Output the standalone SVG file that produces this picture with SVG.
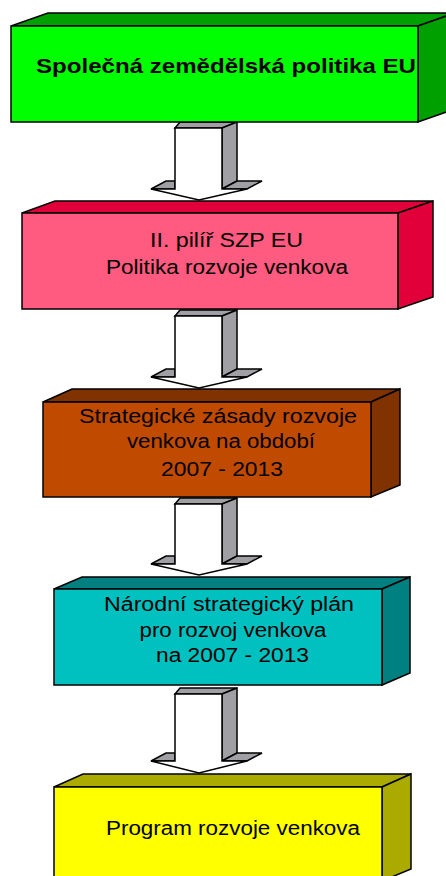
<svg xmlns="http://www.w3.org/2000/svg" width="446" height="876" viewBox="0 0 446 876">
<style>
.e{stroke:#000;stroke-width:1.5;stroke-linejoin:miter}
.g{fill:#A0A0A4}
.w{fill:#fff}
.t{font-family:"Liberation Sans",Arial,sans-serif;font-size:20px;fill:#000}
.b{font-weight:bold;font-size:21px}
</style>
<rect width="446" height="876" fill="#fff"/>
<g id="connectors">
  <g id="arrow1">
    <polygon class="e g" points="175,128 222,128 237,122 180,122"/>
    <polygon class="e g" points="222,128 237,122 237,181 222,189"/>
    <polygon class="e g" points="222,189 247,189 262,181 237,181"/>
    <polygon class="e g" points="151,189 166,181 175,181 175,189"/>
    <polygon class="e w" points="175,128 222,128 222,189 247,189 199,200 151,189 175,189"/>
  </g>
  <g id="arrow2">
    <polygon class="e g" points="175,316 222,316 237,310 180,310"/>
    <polygon class="e g" points="222,316 237,310 237,369 222,377"/>
    <polygon class="e g" points="222,377 247,377 262,369 237,369"/>
    <polygon class="e g" points="151,377 166,369 175,369 175,377"/>
    <polygon class="e w" points="175,316 222,316 222,377 247,377 199,388 151,377 175,377"/>
  </g>
  <g id="arrow3">
    <polygon class="e g" points="175,504 222,504 237,498 180,498"/>
    <polygon class="e g" points="222,504 237,498 237,556 222,564"/>
    <polygon class="e g" points="222,564 247,564 262,556 237,556"/>
    <polygon class="e g" points="151,564 166,556 175,556 175,564"/>
    <polygon class="e w" points="175,504 222,504 222,564 247,564 199,575 151,564 175,564"/>
  </g>
  <g id="arrow4">
    <polygon class="e g" points="175,694 222,694 237,688 180,688"/>
    <polygon class="e g" points="222,694 237,688 237,753 222,761"/>
    <polygon class="e g" points="222,761 247,761 262,753 237,753"/>
    <polygon class="e g" points="151,761 166,753 175,753 175,761"/>
    <polygon class="e w" points="175,694 222,694 222,761 247,761 199,773 151,761 175,761"/>
  </g>
</g>
<g id="node1">
  <polygon class="e" fill="#00A000" points="11,26 48,13 455,13 418,26"/>
  <polygon class="e" fill="#00A000" points="418,26 455,13 455,109 418,122"/>
  <rect class="e" fill="#00FF00" x="11" y="26" width="407" height="96"/>
  <text class="t b" x="36" y="73" textLength="380" lengthAdjust="spacingAndGlyphs">Společná zemědělská politika EU</text>
</g>
<g id="node2">
  <polygon class="e" fill="#E2003A" points="22,213 55,201 433,201 398,213"/>
  <polygon class="e" fill="#E2003A" points="398,213 433,201 433,297 398,309"/>
  <rect class="e" fill="#FF5A80" x="22" y="213" width="376" height="96"/>
  <text class="t" x="150" y="247" textLength="153" lengthAdjust="spacingAndGlyphs">II. pilíř SZP EU</text>
  <text class="t" x="106" y="274" textLength="242" lengthAdjust="spacingAndGlyphs">Politika rozvoje venkova</text>
</g>
<g id="node3">
  <polygon class="e" fill="#803200" points="43,402 72,389 400,389 371,402"/>
  <polygon class="e" fill="#803200" points="371,402 400,389 400,485 371,497"/>
  <rect class="e" fill="#C04A00" x="43" y="402" width="328" height="95"/>
  <text class="t" x="79" y="423" textLength="278" lengthAdjust="spacingAndGlyphs">Strategické zásady rozvoje</text>
  <text class="t" x="127" y="448" textLength="188" lengthAdjust="spacingAndGlyphs">venkova na období</text>
  <text class="t" x="161" y="475.5" textLength="122" lengthAdjust="spacingAndGlyphs">2007 - 2013</text>
</g>
<g id="node4">
  <polygon class="e" fill="#008080" points="54,589 82,577 410,577 382,589"/>
  <polygon class="e" fill="#008080" points="382,589 410,577 410,673 382,685"/>
  <rect class="e" fill="#00C0C0" x="54" y="589" width="328" height="96"/>
  <text class="t" x="104" y="611" textLength="250" lengthAdjust="spacingAndGlyphs">Národní strategický plán</text>
  <text class="t" x="139.5" y="637" textLength="187" lengthAdjust="spacingAndGlyphs">pro rozvoj venkova</text>
  <text class="t" x="156" y="662" textLength="153" lengthAdjust="spacingAndGlyphs">na 2007 - 2013</text>
</g>
<g id="node5">
  <polygon class="e" fill="#AAAA00" points="54,787 83,774 411,774 382,787"/>
  <polygon class="e" fill="#AAAA00" points="382,787 411,774 411,869 382,881"/>
  <rect class="e" fill="#FFFF00" x="54" y="787" width="328" height="94"/>
  <text class="t" x="106" y="835" textLength="254" lengthAdjust="spacingAndGlyphs">Program rozvoje venkova</text>
</g>
</svg>
